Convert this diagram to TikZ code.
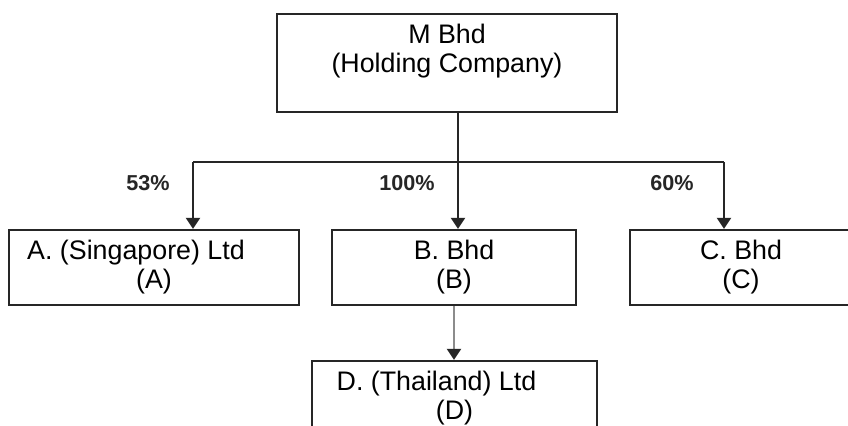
\documentclass[tikz,border=0pt]{standalone}
\usepackage{fontspec}
\setmainfont{Liberation Sans}
\usetikzlibrary{arrows.meta, positioning, calc}

\begin{document}
\begin{tikzpicture}[
    x=0.5pt, y=-0.5pt,
    font=\fontsize{13.4}{14.5}\selectfont,
    cobox/.style n args={2}{
        rectangle, draw=black!85, line width=1.1pt,
        minimum width=#1, minimum height=#2,
        inner sep=0pt, align=center
    },
    pct/.style={
        font=\fontsize{10.8}{12}\selectfont\bfseries, text=black!85
    },
    link/.style={
        line width=1.1pt, draw=black!85
    },
    harrow/.style={
        -{Triangle[length=5.5pt,width=7pt]}, line width=1.1pt, draw=black!85, #1
    },
]

\fill[white] (0,0) rectangle (848,425);
\useasboundingbox (0,0) rectangle (848,425);
\clip (0,0) rectangle (848,425);

% ============================================================
% Holding company
% ============================================================

\node[cobox={170pt}{49pt}] (m) at (447,63) {M Bhd\\(Holding Company)\\\mbox{}};

% ============================================================
% Subsidiaries
% ============================================================

\node[cobox={145pt}{37.5pt}] (a) at (154,267.5) {A. (Singapore) Ltd\hspace*{18pt}\\(A)};
\node[cobox={122pt}{37.5pt}] (b) at (454,267.5) {B. Bhd\\(B)};
\node[cobox={111pt}{37.5pt}] (c) at (741,267.5) {C. Bhd\\(C)};
\node[cobox={142.5pt}{37.5pt}] (d) at (454.5,398.5) {D. (Thailand) Ltd\hspace*{18pt}\\(D)};

% ============================================================
% Connectors
% ============================================================

\coordinate (trunk) at (458,162);
\coordinate (toA) at (193,162);
\coordinate (toC) at (724,162);

\draw[link] (trunk |- m.south) -- (trunk);
\draw[link] (toA) -- (toC);
\draw[harrow] (toA) -- (toA |- a.north);
\draw[harrow] (trunk) -- (trunk |- b.north);
\draw[harrow] (toC) -- (toC |- c.north);
\draw[harrow={draw=black!45, -{Triangle[length=5.5pt,width=7pt,color=black!85]}}]
    (b.south) -- (b.south |- d.north);

% Shareholdings
\node[pct] (p53) at (148,183) {53\%};
\node[pct] (p100) at (407,183) {100\%};
\node[pct] (p60) at (672,183) {60\%};

\end{tikzpicture}
\end{document}
